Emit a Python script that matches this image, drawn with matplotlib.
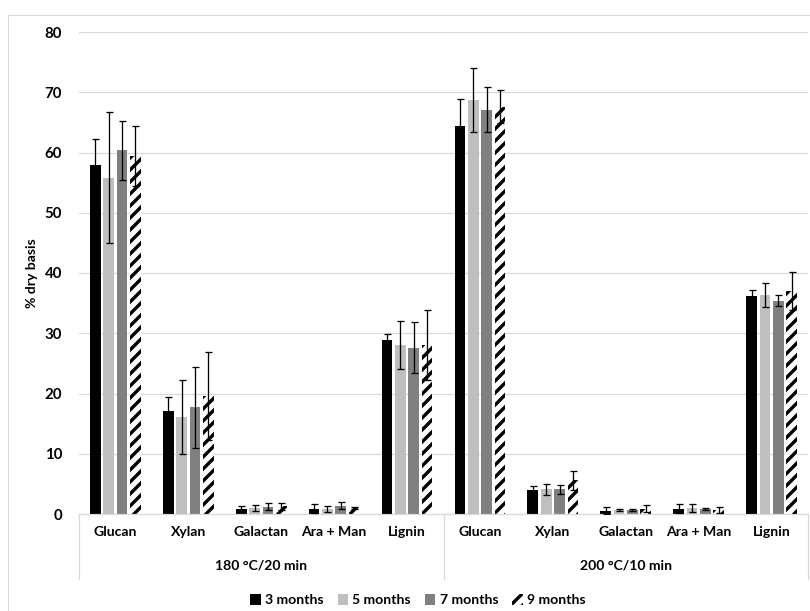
import matplotlib
matplotlib.use('Agg')
import matplotlib.pyplot as plt
import numpy as np
from matplotlib.patches import Patch
from matplotlib.lines import Line2D

# data
categories = ['Glucan', 'Xylan', 'Galactan', 'Ara + Man', 'Lignin']
groups = ['180 °C/20 min', '200 °C/10 min']
series = ['3 months', '5 months', '7 months', '9 months']

m3 = [57.9, 17.1, 0.8, 0.9, 28.8, 64.4, 4.0, 0.55, 0.9, 36.1]
m3_err = [4.3, 2.4, 0.5, 0.7, 1.0, 4.4, 0.7, 0.55, 0.7, 1.0]
m5 = [55.8, 16.1, 1.0, 0.8, 28.0, 68.7, 4.1, 0.65, 1.0, 36.3]
m5_err = [10.9, 6.2, 0.5, 0.5, 4.0, 5.3, 0.9, 0.1, 0.7, 2.0]
m7 = [60.4, 17.7, 1.2, 1.4, 27.6, 67.1, 4.1, 0.7, 0.85, 35.4]
m7_err = [4.9, 6.7, 0.6, 0.6, 4.2, 3.7, 0.7, 0.2, 0.15, 0.9]
m9 = [59.4, 19.6, 1.3, 1.0, 28.0, 67.6, 5.6, 0.9, 0.65, 37.0]
m9_err = [5.0, 7.3, 0.6, 0.2, 5.8, 2.7, 1.6, 0.6, 0.45, 3.2]

values = [m3, m5, m7, m9]
errors = [m3_err, m5_err, m7_err, m9_err]
colors = ['#000000', '#bfbfbf', '#808080', 'white']
hatches = [None, None, None, '//']

plt.rcParams['font.family'] = ['Lato', 'DejaVu Sans']
plt.rcParams['font.weight'] = 'bold'
plt.rcParams['hatch.linewidth'] = 3.4

DPI = 72
fig = plt.figure(figsize=(810 / DPI, 611 / DPI), dpi=DPI)
ax = fig.add_axes([79 / 810, 1 - 514 / 611, (808 - 79) / 810, (514 - 32) / 611])

labels = categories * len(groups)
x = np.arange(len(labels))
slot = 0.183
width = 0.147

for i in range(len(series)):
    pos = x + (i - 1.5) * slot
    ax.bar(pos, values[i], width, color=colors[i], hatch=hatches[i],
           edgecolor='black', linewidth=0, zorder=2)
    ax.errorbar(pos, values[i], yerr=errors[i], fmt='none', ecolor='black',
                elinewidth=1.3, capsize=3.5, capthick=1.3, zorder=3)

ax.set_xlim(-0.5, len(labels) - 0.5)
ax.set_ylim(0, 80)
ax.set_yticks(range(0, 81, 10))
ax.grid(axis='y', color='#d9d9d9', linewidth=1.2, zorder=0)
ax.set_axisbelow(True)
for s in ['left', 'right', 'top']:
    ax.spines[s].set_visible(False)
ax.spines['bottom'].set_color('#d9d9d9')
ax.spines['bottom'].set_linewidth(1.2)
ax.tick_params(axis='y', length=0, pad=17, labelsize=15)
ax.tick_params(axis='x', length=0, pad=12, labelsize=14)
ax.set_xticks(x)
ax.set_xticklabels(labels, fontweight='bold')
for t in ax.get_yticklabels():
    t.set_fontweight('bold')
ax.set_ylabel('% dry basis', fontsize=14, fontweight='bold', labelpad=7)

# group labels with separators below the axis
n = len(categories)
for g, name in enumerate(groups):
    center = g * n + (n - 1) / 2
    ax.annotate(name, xy=(center, 0), xycoords=('data', 'axes fraction'),
                xytext=(0, -52), textcoords='offset points', ha='center', va='center',
                fontsize=14, fontweight='bold')
for b in [-0.5, n - 0.5, 2 * n - 0.5]:
    ax.add_line(Line2D([b, b], [0, -65 / (514 - 32)], transform=ax.get_xaxis_transform(),
                       color='#d9d9d9', linewidth=1.2, clip_on=False))

# legend
handles = [Patch(facecolor=colors[i], hatch=hatches[i], edgecolor='black', linewidth=0)
           for i in range(len(series))]
fig.legend(handles, series, loc='center', bbox_to_anchor=(0.516, 1 - 600 / 611),
           ncol=4, frameon=False, handlelength=0.75, handleheight=0.9,
           handletextpad=0.3, columnspacing=1.0, prop={'weight': 'bold', 'size': 14})

# chart border (left and top visible)
fig.add_artist(Line2D([8 / 810, 8 / 810], [0, 1 - 15 / 611], transform=fig.transFigure,
                      color='#d9d9d9', linewidth=1))
fig.add_artist(Line2D([8 / 810, 1], [1 - 15 / 611, 1 - 15 / 611], transform=fig.transFigure,
                      color='#d9d9d9', linewidth=1))

fig.savefig('out.png', dpi=DPI)
